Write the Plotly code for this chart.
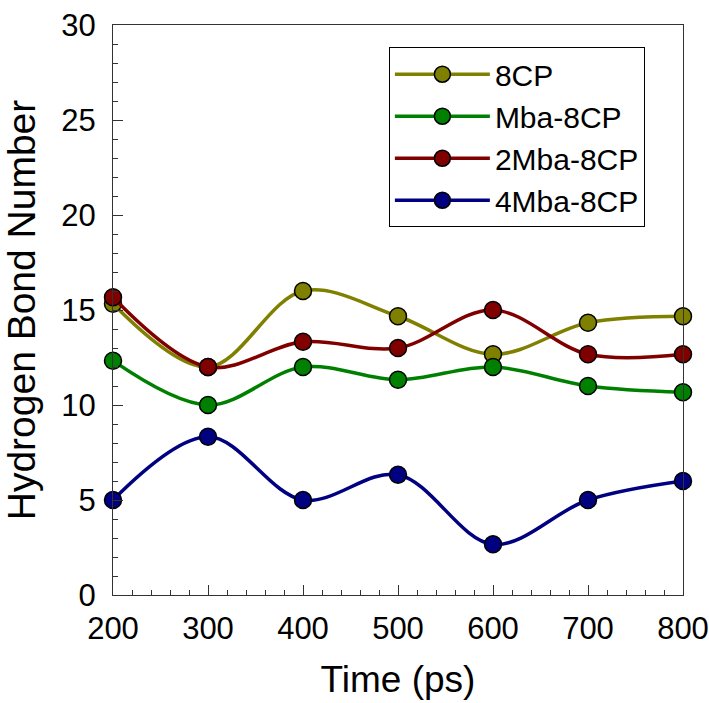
import plotly.graph_objects as go

time_ps = [200, 300, 400, 500, 600, 700, 800]
cp8 = [15.33, 12.0, 16.0, 14.67, 12.67, 14.33, 14.67]
mba_8cp = [12.33, 10.0, 12.0, 11.33, 12.0, 11.0, 10.67]
mba2_8cp = [15.67, 12.0, 13.33, 13.0, 15.0, 12.67, 12.67]
mba4_8cp = [5.0, 8.33, 5.0, 6.33, 2.67, 5.0, 6.0]

series = [
    ("8CP", cp8, "#808000"),
    ("Mba-8CP", mba_8cp, "#008000"),
    ("2Mba-8CP", mba2_8cp, "#800000"),
    ("4Mba-8CP", mba4_8cp, "#000080"),
]

FONT = "Liberation Sans, Arial, sans-serif"

fig = go.Figure()
for name, vals, color in series:
    fig.add_trace(go.Scatter(
        x=time_ps, y=vals, name=name, mode="lines+markers",
        line=dict(color=color, width=3.5, shape="spline", smoothing=1.0),
        marker=dict(size=17, color=color, line=dict(color="black", width=1.5)),
        cliponaxis=False,
    ))

axis_common = dict(
    showgrid=False, zeroline=False, showline=True, linecolor="#333333", linewidth=1,
    mirror=True, ticks="inside", ticklen=10, tickwidth=1, tickcolor="#333333",
    tickfont=dict(family=FONT, size=31, color="black"), automargin=False,
    ticklabeloverflow="allow",
)

fig.update_layout(
    width=709, height=703,
    margin=dict(l=113, r=26, t=25, b=108),
    paper_bgcolor="white", plot_bgcolor="white",
    font=dict(family=FONT, color="black"),
    xaxis=dict(
        range=[200, 800], tickvals=[200, 300, 400, 500, 600, 700, 800],
        minor=dict(ticks="inside", ticklen=5, dtick=20, tickcolor="#333333"),
        title=dict(text="Time (ps)", font=dict(family=FONT, size=37), standoff=20),
        ticklabelstandoff=6,
        **axis_common,
    ),
    yaxis=dict(
        range=[0, 30], tickvals=[0, 5, 10, 15, 20, 25, 30],
        minor=dict(ticks="inside", ticklen=5, dtick=1, tickcolor="#333333"),
        title=dict(text="Hydrogen Bond Number", font=dict(family=FONT, size=39), standoff=14),
        ticklabelstandoff=10,
        **axis_common,
    ),
    legend=dict(
        x=0.484, y=0.961, xanchor="left", yanchor="top",
        bgcolor="white", bordercolor="black", borderwidth=1,
        font=dict(family=FONT, size=30, color="black"),
        itemwidth=95, tracegroupgap=0,
    ),
)

fig.write_html(
    "out.html",
    config={"displayModeBar": False},
    post_script="document.body.style.margin='0';document.body.style.overflow='hidden';",
)
